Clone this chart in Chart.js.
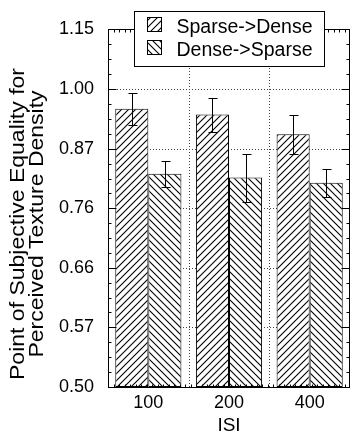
<!DOCTYPE html>
<html>
<head>
<meta charset="utf-8">
<script src="https://cdn.jsdelivr.net/npm/chart.js@4.4.1/dist/chart.umd.min.js"></script>
<style>
html, body { margin: 0; padding: 0; background: #fff; }
#wrap { width: 352px; height: 439px; position: relative; }
</style>
</head>
<body>
<div id="wrap"><canvas id="chart"></canvas></div>
<script>
// ---------- DATA ----------
const isiLabels = ['100', '200', '400'];
const sparseToDense = [0.960, 0.947, 0.904];
const sparseToDenseErr = [0.037, 0.038, 0.041];
const denseToSparse = [0.824, 0.817, 0.807];
const denseToSparseErr = [0.025, 0.046, 0.026];
const tickValues = [0.5, 0.575, 0.661, 0.760, 0.874, 1.006, 1.157];
const tickLabels = ['0.50', '0.57', '0.66', '0.76', '0.87', '1.00', '1.15'];
const seriesNames = ['Sparse->Dense', 'Dense->Sparse'];
const yTitle = ['Point of Subjective Equality for', 'Perceived Texture Density'];

const FONT = "'Liberation Sans', Arial, Helvetica, sans-serif";
Chart.defaults.font.family = FONT;
Chart.defaults.color = '#000';

// ---------- HATCH ----------
function hatch(ctx, dir) {
  const s = 7;
  const tile = document.createElement('canvas');
  tile.width = s; tile.height = s;
  const t = tile.getContext('2d');
  t.fillStyle = '#fff';
  t.fillRect(0, 0, s, s);
  t.strokeStyle = '#000';
  t.lineWidth = 1.1;
  t.beginPath();
  if (dir > 0) {
    t.moveTo(0, s); t.lineTo(s, 0);
    t.moveTo(-1, 1); t.lineTo(1, -1);
    t.moveTo(s - 1, s + 1); t.lineTo(s + 1, s - 1);
  } else {
    t.moveTo(0, 0); t.lineTo(s, s);
    t.moveTo(-1, s - 1); t.lineTo(1, s + 1);
    t.moveTo(s - 1, -1); t.lineTo(s + 1, 1);
  }
  t.stroke();
  return ctx.createPattern(tile, 'repeat');
}

const canvas = document.getElementById('chart');
const ctx0 = canvas.getContext('2d');
const patUp = hatch(ctx0, 1);
const patDown = hatch(ctx0, -1);

// ---------- PLUGINS ----------
const gridPlugin = {
  id: 'dotGrid',
  beforeDatasetsDraw(chart) {
    const {ctx, chartArea: a, scales: {x, y}} = chart;
    ctx.save();
    ctx.strokeStyle = '#444';
    ctx.lineWidth = 1;
    ctx.setLineDash([1, 2]);
    ctx.beginPath();
    tickValues.slice(1, -1).forEach(v => {
      const py = Math.round(y.getPixelForValue(v)) + 0.5;
      ctx.moveTo(a.left, py); ctx.lineTo(a.right, py);
    });
    for (let i = 0; i < isiLabels.length - 1; i++) {
      const px = Math.round((x.getPixelForValue(i) + x.getPixelForValue(i + 1)) / 2) + 0.5;
      ctx.moveTo(px, a.top); ctx.lineTo(px, a.bottom);
    }
    ctx.stroke();
    ctx.restore();
  }
};

const framePlugin = {
  id: 'frame',
  afterDatasetsDraw(chart) {
    const {ctx, chartArea: a, scales: {y}} = chart;
    ctx.save();
    ctx.strokeStyle = '#000';
    ctx.lineWidth = 1;

    // error bars
    const errs = [sparseToDenseErr, denseToSparseErr];
    chart.data.datasets.forEach((ds, di) => {
      chart.getDatasetMeta(di).data.forEach((bar, i) => {
        const bx = Math.round(bar.x) + 0.5;
        const top = Math.round(y.getPixelForValue(ds.data[i] + errs[di][i])) + 0.5;
        const bot = Math.round(y.getPixelForValue(ds.data[i] - errs[di][i])) + 0.5;
        ctx.beginPath();
        ctx.moveTo(bx, top); ctx.lineTo(bx, bot);
        ctx.moveTo(bx - 4, top); ctx.lineTo(bx + 5, top);
        ctx.moveTo(bx - 4, bot); ctx.lineTo(bx + 5, bot);
        ctx.stroke();
      });
    });

    // frame
    const L = Math.round(a.left) + 0.5, R = Math.round(a.right) - 0.5;
    const T = Math.round(a.top) + 0.5, B = Math.round(a.bottom) + 0.5;
    ctx.strokeRect(L, T, R - L, B - T);

    // y ticks, major + minor, both sides
    ctx.beginPath();
    tickValues.forEach((v, i) => {
      const py = Math.round(y.getPixelForValue(v)) + 0.5;
      ctx.moveTo(L, py); ctx.lineTo(L + 8, py);
      ctx.moveTo(R, py); ctx.lineTo(R - 8, py);
      if (i < tickValues.length - 1) {
        const n = tickValues[i + 1];
        for (let k = 1; k < 4; k++) {
          const mv = v * Math.pow(n / v, k / 4);
          const my = Math.round(y.getPixelForValue(mv)) + 0.5;
          ctx.moveTo(L, my); ctx.lineTo(L + 3, my);
          ctx.moveTo(R, my); ctx.lineTo(R - 3, my);
        }
      }
    });
    // small ticks along top and bottom
    const steps = 44;
    for (let k = 1; k < steps; k++) {
      const px = Math.round(a.left + (a.right - a.left) * k / steps) + 0.5;
      ctx.moveTo(px, T); ctx.lineTo(px, T + 3);
      ctx.moveTo(px, B); ctx.lineTo(px, B - 3);
    }
    ctx.stroke();
    ctx.restore();
  }
};

const legendPlugin = {
  id: 'boxLegend',
  afterDraw(chart) {
    const {ctx, chartArea: a} = chart;
    ctx.save();
    // legend box
    const lx = a.left + 26.5, ly = a.top - 17.5;
    ctx.fillStyle = '#fff';
    ctx.fillRect(lx, ly, 190, 55);
    ctx.strokeStyle = '#000';
    ctx.lineWidth = 1;
    ctx.strokeRect(lx, ly, 190, 55);
    [patUp, patDown].forEach((p, i) => {
      const sy = ly + 6 + i * 23;
      ctx.fillStyle = p;
      ctx.fillRect(lx + 13, sy, 14, 14);
      ctx.strokeRect(lx + 13, sy, 14, 14);
      ctx.fillStyle = '#000';
      ctx.font = '19.5px ' + FONT;
      ctx.textBaseline = 'alphabetic';
      ctx.textAlign = 'left';
      ctx.fillText(seriesNames[i], lx + 42, sy + 15);
    });

    // y axis title (slightly condensed across, as in the original)
    ctx.translate(0, 224);
    ctx.rotate(-Math.PI / 2);
    ctx.scale(1, 0.9);
    ctx.font = '23px ' + FONT;
    ctx.textAlign = 'center';
    ctx.fillText(yTitle[0], 0, 24 / 0.9);
    ctx.fillText(yTitle[1], 0, 43 / 0.9);
    ctx.restore();
  }
};

// ---------- CHART ----------
new Chart(canvas, {
  type: 'bar',
  data: {
    labels: isiLabels,
    datasets: [
      { label: seriesNames[0], data: sparseToDense, backgroundColor: patUp, borderColor: '#000', borderWidth: 1, borderSkipped: false },
      { label: seriesNames[1], data: denseToSparse, backgroundColor: patDown, borderColor: '#000', borderWidth: 1, borderSkipped: false }
    ]
  },
  options: {
    responsive: true,
    maintainAspectRatio: false,
    animation: false,
    layout: { padding: { top: 29, right: 2, left: 0, bottom: 0 } },
    datasets: { bar: { categoryPercentage: 0.82, barPercentage: 1.0 } },
    plugins: { legend: { display: false }, tooltip: { enabled: false } },
    scales: {
      x: {
        grid: { display: false, drawTicks: false },
        border: { display: false },
        ticks: { font: { size: 18 }, padding: 5, color: '#000' },
        title: { display: true, text: 'ISI', font: { size: 19 }, padding: { top: 0, bottom: 2 }, color: '#000' },
        afterFit(s) { s.height = 52; }
      },
      y: {
        type: 'logarithmic',
        min: 0.5,
        max: 1.157,
        bounds: 'data',
        grid: { display: false, drawTicks: false },
        border: { display: false },
        afterBuildTicks(s) { s.ticks = tickValues.map(v => ({ value: v })); },
        ticks: {
          autoSkip: false,
          font: { size: 18 },
          padding: 14,
          color: '#000',
          callback: (v, i) => tickLabels[i]
        },
        afterFit(s) { s.width = 108; }
      }
    }
  },
  plugins: [gridPlugin, framePlugin, legendPlugin]
});
</script>
</body>
</html>
